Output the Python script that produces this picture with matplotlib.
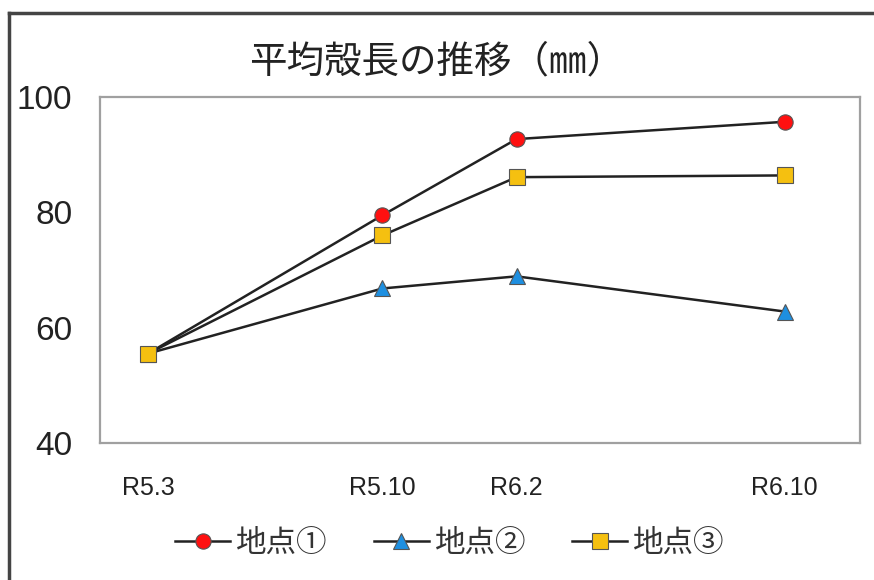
import matplotlib
matplotlib.use("Agg")
import matplotlib.pyplot as plt
from matplotlib.lines import Line2D

plt.rcParams['font.family'] = ['Liberation Sans', 'Noto Sans CJK JP', 'DejaVu Sans']

# Survey dates and months elapsed since R5.3
dates = ["R5.3", "R5.10", "R6.2", "R6.10"]
months = [0, 7, 11, 19]

# Mean shell length (mm) at each site
site1 = [55.5, 79.5, 92.7, 95.7]
site2 = [55.5, 66.8, 68.9, 62.8]
site3 = [55.5, 76.0, 86.1, 86.4]

series = [
    ("地点①", site1, "o", "#ff1010", 11),
    ("地点②", site2, "^", "#1e8fe0", 11),
    ("地点③", site3, "s", "#f5c010", 11),
]

fig = plt.figure(figsize=(8.74, 5.8), dpi=100)
ax = fig.add_axes([100 / 874, 1 - 443 / 580, 760 / 874, 346 / 580])

for name, vals, mk, col, ms in series:
    ax.plot(months, vals, color="#222222", lw=1.8, marker=mk, markersize=ms,
            markerfacecolor=col, markeredgecolor="#555555", markeredgewidth=0.8,
            label=name)

ax.set_xlim(-1.43, 21.25)
ax.set_ylim(40, 100)
ax.set_yticks([40, 60, 80, 100])
ax.set_xticks(months)
ax.set_xticklabels(dates)
ax.tick_params(axis='y', length=0, pad=20, labelsize=24, labelcolor="#222222")
ax.tick_params(axis='x', length=0, pad=24, labelsize=18, labelcolor="#222222")
for s in ax.spines.values():
    s.set_color("#a0a0a0")
    s.set_linewidth(1.6)

fig.text(437 / 874, 1 - 62 / 580, "平均殻長の推移（㎜）", ha="center", va="center",
         fontsize=27, family=['Noto Sans CJK JP', 'DejaVu Sans'], color="#222222")

leg = fig.legend(loc="center", bbox_to_anchor=(450 / 874, 1 - 543 / 580), ncol=3,
                 frameon=False, prop={'family': ['Noto Sans CJK JP', 'DejaVu Sans'], 'size': 22},
                 handlelength=1.8, handletextpad=0.2, columnspacing=1.5, markerscale=1.0)
for t in leg.get_texts():
    t.set_color("#333333")

# Outer frame (top and left edges)
fig.add_artist(Line2D([9 / 874, 1.0], [1 - 13 / 580, 1 - 13 / 580], color="#444444", lw=2.5,
                      transform=fig.transFigure))
fig.add_artist(Line2D([9 / 874, 9 / 874], [0, 1 - 13 / 580], color="#444444", lw=2.5,
                      transform=fig.transFigure))

fig.savefig("out.png", dpi=100)
